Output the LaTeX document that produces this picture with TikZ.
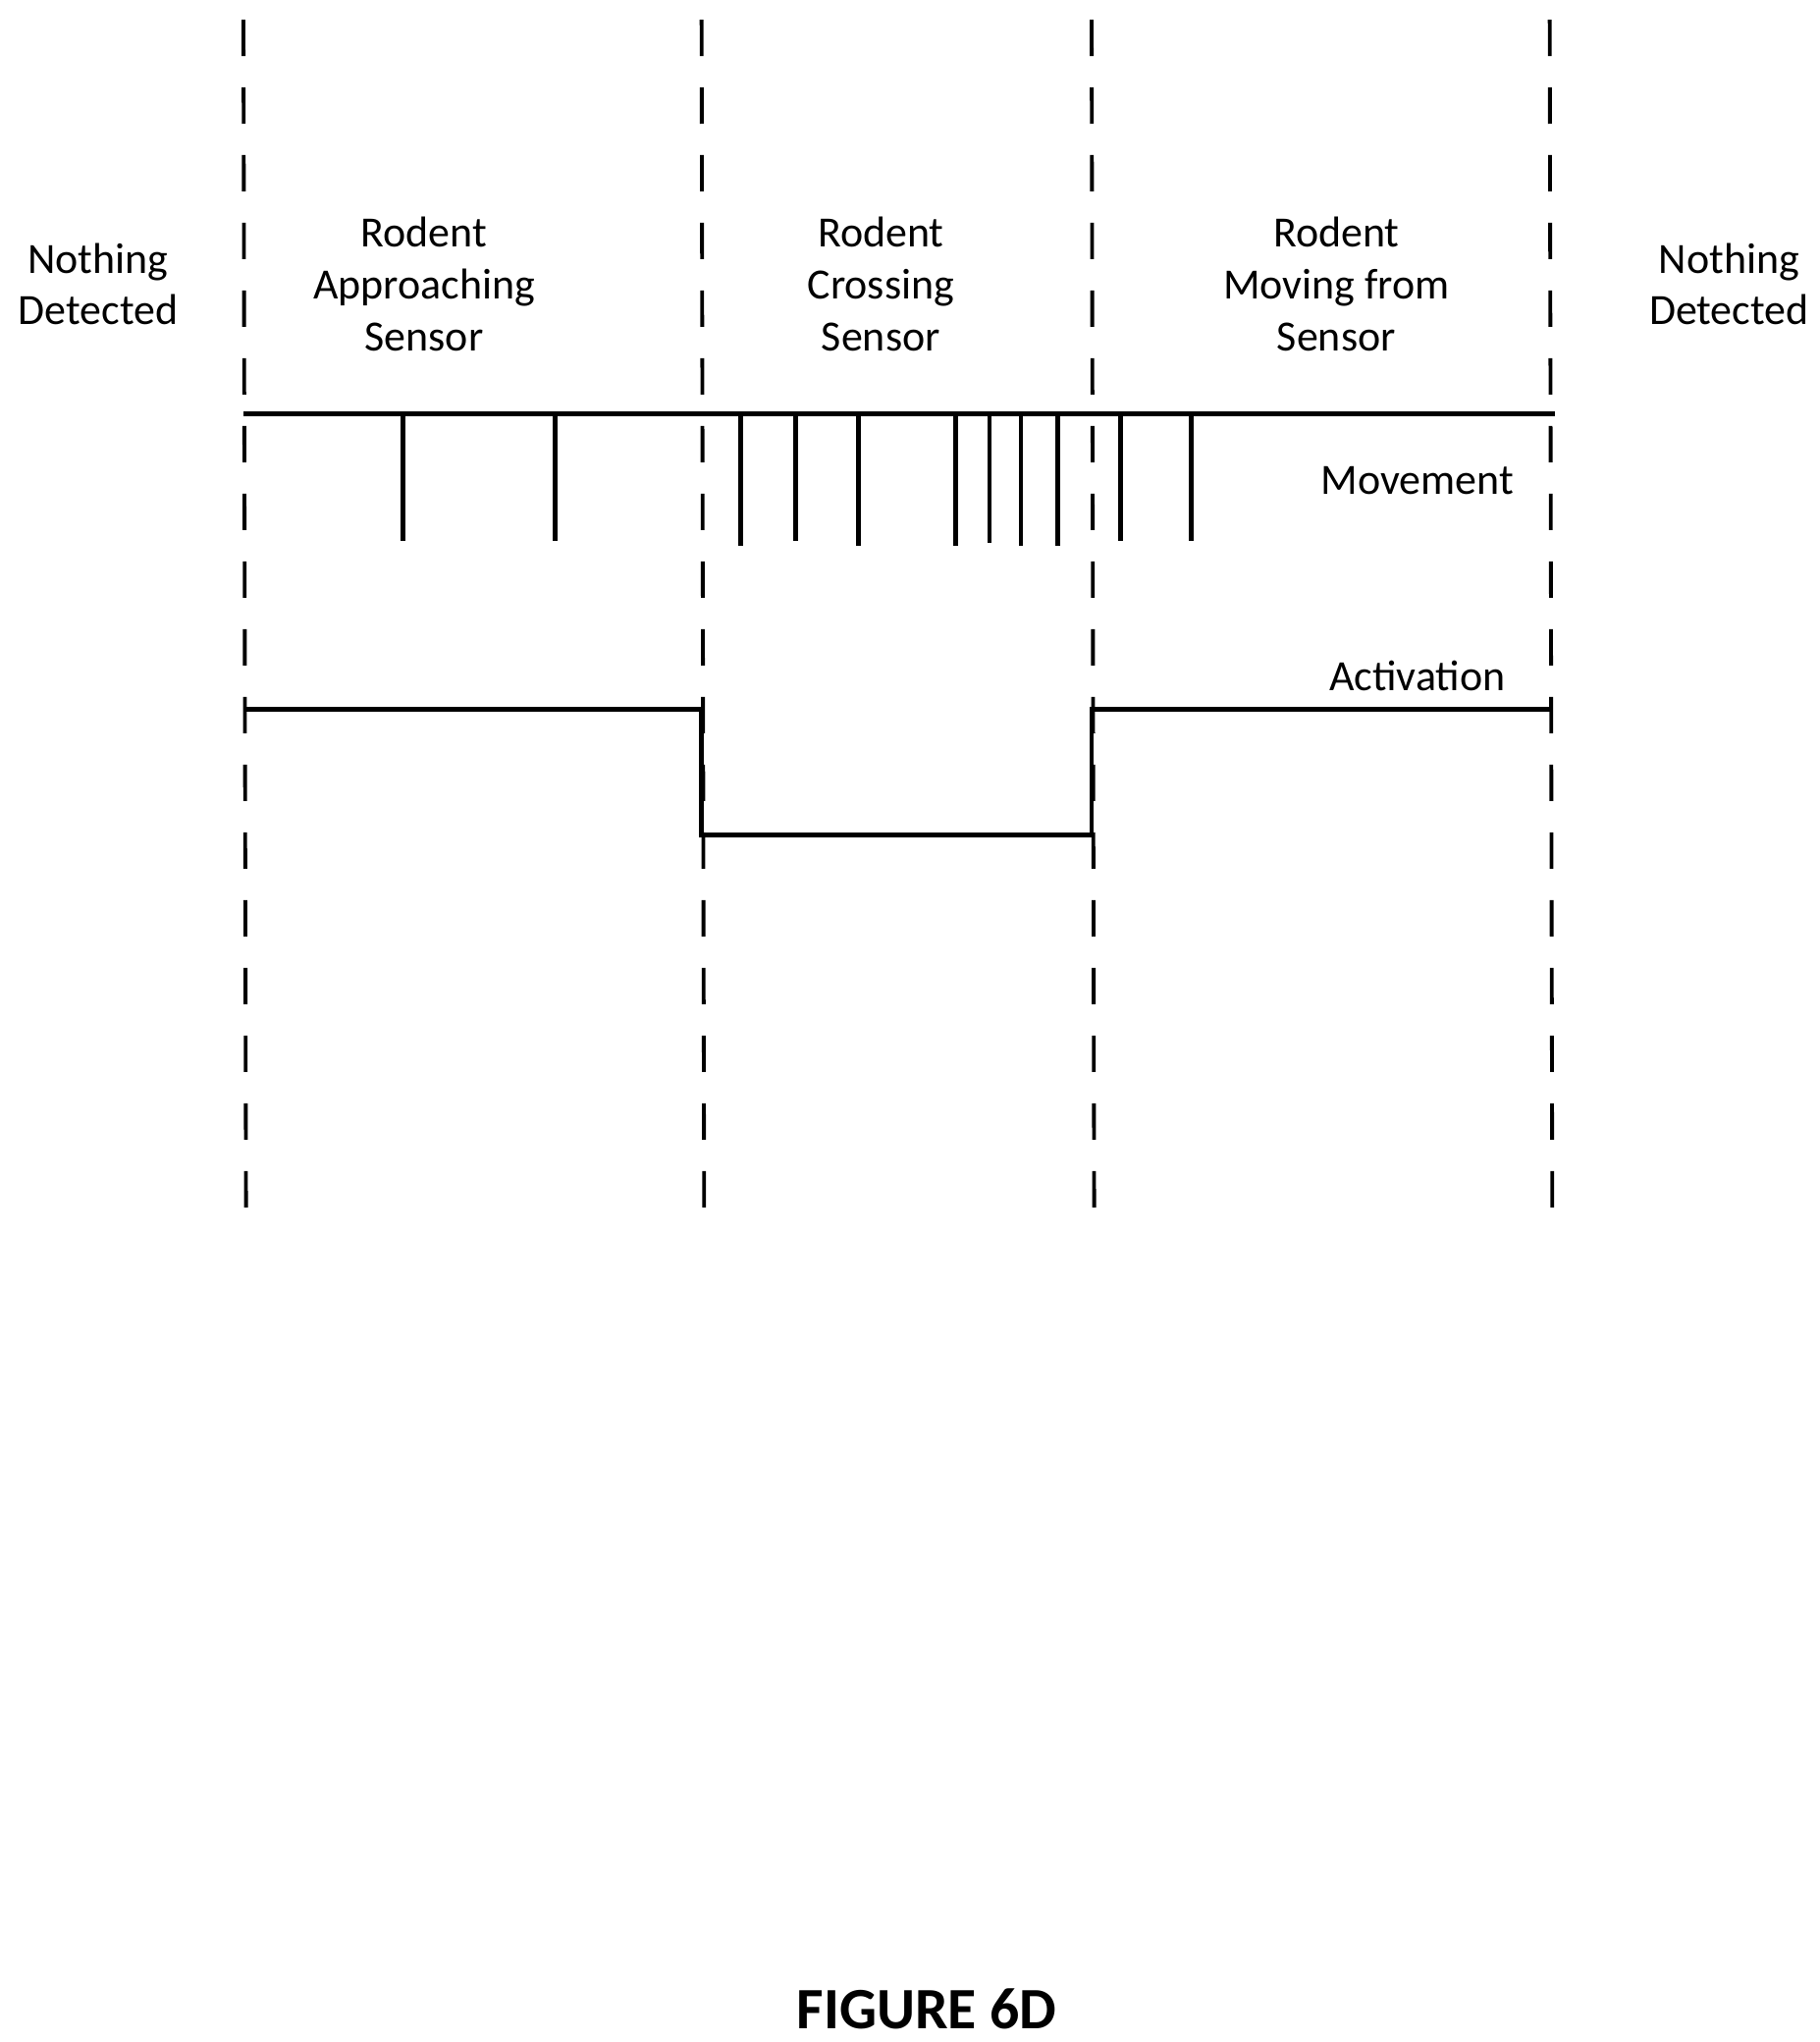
\documentclass[tikz,border=0pt]{standalone}
\usepackage{fontspec}
\setmainfont{Carlito}
\usetikzlibrary{positioning}
\tikzset{
    phase/.style={
           align=center,
           font=\fontsize{12.5}{15}\selectfont,
           },
    border/.style={
           dash pattern=on 0.37cm off 0.32cm,
           line width=1.1pt,
           },
    trace/.style={
           line width=1.3pt,
           },
}
\begin{document}
\begin{tikzpicture}[x=0.01333cm,y=-0.01333cm]
 \useasboundingbox (0,0) rectangle (1390,1560);
 % phase borders
 \foreach \bx/\nm in {186/B1,536/B2,834/B3,1184/B4}
  \draw[border] (\bx,15) coordinate (\nm top) -- (\bx+2,945) coordinate (\nm bot);
 % phase labels
 \node[phase] (ND1) at (75,217) {Nothing\\Detected};
 \node[phase] (RAS) at (324,217) {Rodent\\Approaching\\Sensor};
 \node[phase] (RCS) at (673,217) {Rodent\\Crossing\\Sensor};
 \node[phase] (RMS) at (1021,217) {Rodent\\Moving from\\Sensor};
 \node[phase] (ND2) at (1321,217) {Nothing\\Detected};
 % movement
 \coordinate (Mstart) at (186,316);
 \coordinate (Mend) at (1188,316);
 \draw[trace] (Mstart) -- (Mend);
 \foreach \tx/\ty in {308/413,424/413,566/417,608/413,656/417,730/417,756/415,780/417,808/417,856/413,910/413}
  \draw[trace] (\tx,316) -- (\tx,\ty);
 \node[phase] (MV) at (1083,367) {Movement};
 % activation
 \node[phase] (AC) at (1083,516) {Activation};
 \coordinate (A0) at (186,542);
 \coordinate (A1) at (536,542);
 \coordinate (A2) at (536,638);
 \coordinate (A3) at (834,638);
 \coordinate (A4) at (834,542);
 \coordinate (A5) at (1184,542);
 \draw[trace] (A0) -- (A1) -- (A2) -- (A3) -- (A4) -- (A5);
 \node[font=\fontsize{17}{20}\selectfont\bfseries] (FIG) at (708,1535) {FIGURE 6D};
\end{tikzpicture}
\end{document}
